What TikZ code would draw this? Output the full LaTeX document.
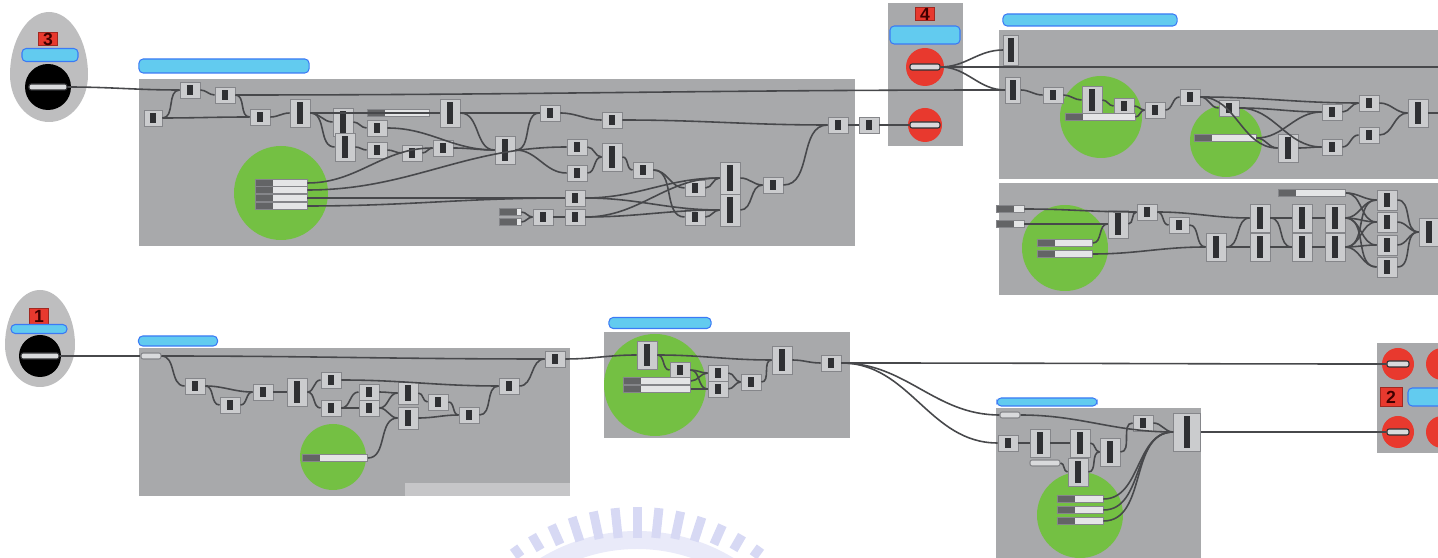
\documentclass[tikz,border=0pt]{standalone}
\usepackage{fontspec}
\setmainfont{Liberation Sans}
\usepackage{tikz}
\usepackage{xcolor}
\definecolor{panelc}{HTML}{A8A9AB}
\definecolor{stripc}{HTML}{C6C6C8}
\definecolor{compc}{HTML}{CBCCCE}
\definecolor{edgec}{HTML}{85868A}
\definecolor{corec}{HTML}{2F3033}
\definecolor{wirec}{HTML}{47484B}
\definecolor{groupc}{HTML}{74C043}
\definecolor{alertc}{HTML}{E8392E}
\definecolor{notec}{HTML}{62CBEF}
\definecolor{eggc}{HTML}{BEBEBF}
\definecolor{sliderc}{HTML}{E4E5E6}
\definecolor{pillc}{HTML}{D9DADC}
\definecolor{markc}{HTML}{D7D9F4}
\tikzset{
  panel/.style={fill=panelc},
  group/.style={fill=groupc},
  wire/.style={draw=wirec, line width=0.45pt},
  comp/.style={draw=edgec, fill=compc, line width=0.25pt, inner sep=0pt, minimum width=0.2cm, minimum height=0.16cm,
    path picture={\fill[corec] ([xshift=-0.8pt,yshift=-0.8pt]path picture bounding box.north) rectangle ([xshift=0.8pt,yshift=0.8pt]path picture bounding box.south);}},
  tallcomp/.style={comp, minimum height=0.28cm},
  slider/.style={draw=edgec, fill=sliderc, line width=0.25pt, inner sep=0pt, minimum height=0.065cm,
    path picture={\fill[corec!75] (path picture bounding box.south west) rectangle ([xshift=5pt]path picture bounding box.north west);}},
  pill/.style={draw=corec, fill=pillc, line width=0.3pt, inner sep=0pt, minimum width=0.38cm, minimum height=0.06cm, rounded corners=0.6pt},
  tag/.style={fill=alertc, draw=alertc!70!black, line width=0.25pt, inner sep=0pt, minimum width=0.19cm, minimum height=0.13cm,
    font=\bfseries\fontsize{5}{5}\selectfont, text=black!75!red},
  note/.style={fill=notec, draw=notec!60!blue, line width=0.3pt, rounded corners=1.2pt, inner sep=0pt},
}
\begin{document}
\begin{tikzpicture}[x=0.01cm, y=-0.01cm]
\useasboundingbox (0,0) rectangle (1438,558);
\clip (0,0) rectangle (1438,558);
\fill[markc!55, shift={(637,717)}] (233:168) arc[start angle=233, end angle=307, radius=168] -- (307:186) arc[start angle=307, end angle=233, radius=186] -- cycle;
\foreach \a/\h in {-36/12,-30/17,-24/21,-18/25,-12/28,-6/30,0/31,6/30,12/28,18/25,24/21,30/17,36/12}
  \fill[markc, shift={(637,717)}, rotate=\a] (-4.5,-210+\h) rectangle (4.5,-210);

\fill[eggc] (10,75) arc[start angle=180, end angle=360, x radius=39, y radius=63] arc[start angle=0, end angle=180, x radius=39, y radius=47] -- cycle;
\fill[black] (48,87) circle[radius=23];
\fill[eggc] (5,345) arc[start angle=180, end angle=360, x radius=35, y radius=55] arc[start angle=0, end angle=180, x radius=35, y radius=42] -- cycle;
\fill[black] (40,356) circle[radius=21];

\fill[panel] (139,79) rectangle (855,246);
\fill[panel] (888,3) rectangle (963,146);
\fill[panel] (999,30) rectangle (1438,179);
\fill[panel] (999,183) rectangle (1438,295);
\fill[panel] (139,348) rectangle (570,496);
\fill[stripc] (405,483) rectangle (570,496);
\fill[panel] (604,332) rectangle (850,438);
\fill[panel] (996,408) rectangle (1201,558);
\fill[panel] (1377,343) rectangle (1438,453);

\fill[group] (281,193) circle[radius=47];
\fill[group] (1101,117) circle[radius=41];
\fill[group] (1226,141) circle[radius=36];
\fill[group] (1065,248) circle[radius=43];
\fill[group] (333,457) circle[radius=33];
\fill[group] (655,385) circle[radius=51];
\fill[group] (1080,515) circle[radius=43];
\fill[alertc] (925,67) circle[radius=19];
\fill[alertc] (925,125) circle[radius=17];
\fill[alertc] (1398,364) circle[radius=16];
\fill[alertc] (1398,432) circle[radius=16];
\fill[alertc] (1442,364) circle[radius=16];
\fill[alertc] (1442,432) circle[radius=16];

\node[tag] (t3) at (48,39) {3};
\node[note, minimum width=0.56cm, minimum height=0.13cm] (n3) at (50,55) {};
\node[pill] (p3) at (48,87) {};
\node[note, minimum width=1.7cm, minimum height=0.14cm] (n3b) at (224,66) {};
\node[tag, minimum height=0.16cm] (t1) at (39,316) {1};
\node[note, minimum width=0.56cm, minimum height=0.09cm] (n1) at (39,329) {};
\node[pill] (p1) at (40,356) {};
\node[note, minimum width=0.79cm, minimum height=0.1cm] (n1b) at (178,341) {};
\node[tag] (t4) at (925,14) {4};
\node[note, minimum width=0.7cm, minimum height=0.18cm] (n4) at (925,35) {};
\node[pill, minimum width=0.3cm] (p4a) at (925,67) {};
\node[pill, minimum width=0.3cm] (p4b) at (925,125) {};
\node[note, minimum width=1.74cm, minimum height=0.12cm] (nA) at (1090,20) {};
\node[note, minimum width=1.02cm, minimum height=0.11cm] (n2) at (660,323) {};
\node[note, minimum width=1.0cm, minimum height=0.08cm] (n5) at (1047,402) {};
\node[tag, minimum width=0.22cm, minimum height=0.19cm] (t2) at (1391,397) {2};
\node[note, minimum width=0.34cm, minimum height=0.18cm] (n6) at (1425,397) {};
\node[pill, minimum width=0.22cm] (p6a) at (1398,364) {};
\node[pill, minimum width=0.22cm] (p6b) at (1398,432) {};

\node[comp, minimum width=0.18cm] (c3in) at (153,118) {};
\node[comp] (c3a) at (190,90) {};
\node[comp] (c3b) at (225,95) {};
\node[comp] (c3c) at (260,117) {};
\node[tallcomp] (c3d) at (300,113) {};
\node[tallcomp] (c3e) at (343,122) {};
\node[tallcomp] (c3f) at (345,147) {};
\node[comp] (c3g) at (377,128) {};
\node[comp] (c3h) at (377,150) {};
\node[comp] (c3i) at (412,153) {};
\node[comp] (c3j) at (443,148) {};
\node[slider, minimum width=0.62cm] (s3a) at (398,113) {};
\node[tallcomp] (c3k) at (450,113) {};
\node[tallcomp] (c3m) at (505,150) {};
\node[comp] (c3n) at (550,113) {};
\node[comp] (c3o) at (612,120) {};
\node[comp] (c3p) at (577,147) {};
\node[tallcomp] (c3q) at (612,157) {};
\node[comp] (c3r) at (577,173) {};
\node[comp] (c3s) at (643,170) {};
\node[comp] (c3t) at (575,198) {};
\node[slider, minimum width=0.22cm] (i3a) at (510,212) {};
\node[slider, minimum width=0.22cm] (i3b) at (510,222) {};
\node[comp] (c3v) at (543,217) {};
\node[comp] (c3u) at (575,217) {};
\node[comp] (c3w) at (695,188) {};
\node[comp] (c3x) at (695,217) {};
\node[tallcomp, minimum height=0.32cm] (c3y) at (730,178) {};
\node[tallcomp, minimum height=0.32cm] (c3z) at (730,210) {};
\node[comp] (c3e2) at (773,185) {};
\node[comp] (c3out) at (838,125) {};
\node[comp] (c3end) at (869,125) {};
\foreach \y/\n in {183/g3a,190/g3b,198/g3c,206/g3d}
  \node[slider, minimum width=0.52cm] (\n) at (281,\y) {};

\node[tallcomp, minimum width=0.15cm, minimum height=0.3cm] (a1) at (1011,50) {};
\node[tallcomp, minimum width=0.15cm, minimum height=0.26cm] (a2) at (1013,90) {};
\node[comp] (a3) at (1053,95) {};
\node[tallcomp] (a4) at (1092,100) {};
\node[comp] (a5) at (1124,106) {};
\node[comp] (a6) at (1155,110) {};
\node[comp] (a7) at (1190,97) {};
\node[comp] (a8) at (1229,108) {};
\node[tallcomp] (a9) at (1288,148) {};
\node[comp] (a10) at (1332,112) {};
\node[comp] (a11) at (1332,147) {};
\node[comp] (a12) at (1369,103) {};
\node[comp] (a13) at (1369,135) {};
\node[tallcomp] (a14) at (1418,113) {};
\node[slider, minimum width=0.7cm] (sA1) at (1100,117) {};
\node[slider, minimum width=0.62cm] (sA2) at (1225,138) {};
\coordinate (edgeA) at (1438,67);
\coordinate (edgeA2) at (1438,113);

\node[slider, minimum width=0.28cm] (bin1) at (1010,209) {};
\node[slider, minimum width=0.28cm] (bin2) at (1010,224) {};
\node[tallcomp] (b1) at (1118,224) {};
\node[comp] (b2) at (1147,212) {};
\node[comp] (b3) at (1179,225) {};
\node[tallcomp] (b4) at (1216,247) {};
\node[tallcomp] (b5) at (1260,218) {};
\node[tallcomp] (b6) at (1260,247) {};
\node[tallcomp] (b7) at (1302,218) {};
\node[tallcomp] (b8) at (1302,247) {};
\node[tallcomp] (b9) at (1335,218) {};
\node[tallcomp] (b10) at (1335,247) {};
\foreach \y/\n in {200/b11,222/b12,245/b13,267/b14}
  \node[comp, minimum height=0.2cm] (\n) at (1387,\y) {};
\node[tallcomp] (b15) at (1429,232) {};
\node[slider, minimum width=0.67cm] (sB) at (1312,193) {};
\node[slider, minimum width=0.55cm] (sB1) at (1065,243) {};
\node[slider, minimum width=0.55cm] (sB2) at (1065,254) {};
\coordinate (edgeB) at (1438,232);

\node[pill, minimum width=0.2cm, draw=edgec] (c1in) at (151,356) {};
\node[comp] (c1a) at (195,386) {};
\node[comp] (c1b) at (230,405) {};
\node[comp] (c1c) at (263,392) {};
\node[tallcomp] (c1d) at (297,392) {};
\node[comp] (c1e) at (331,380) {};
\node[comp] (c1f) at (331,408) {};
\node[comp] (c1g) at (369,392) {};
\node[comp] (c1h) at (369,408) {};
\node[tallcomp, minimum height=0.22cm] (c1i) at (408,393) {};
\node[tallcomp, minimum height=0.22cm] (c1j) at (408,418) {};
\node[comp] (c1k) at (438,402) {};
\node[comp] (c1l) at (469,415) {};
\node[comp] (c1n) at (509,386) {};
\node[comp] (c1o) at (555,359) {};
\node[slider, minimum width=0.65cm] (s1) at (335,458) {};

\node[tallcomp] (c2a) at (647,355) {};
\node[comp] (c2b) at (680,370) {};
\node[comp] (c2c) at (718,373) {};
\node[comp] (c2d) at (718,389) {};
\node[comp] (c2e) at (751,382) {};
\node[tallcomp] (c2f) at (782,360) {};
\node[comp] (c2g) at (831,363) {};
\node[slider, minimum width=0.67cm] (s2a) at (657,381) {};
\node[slider, minimum width=0.67cm] (s2b) at (657,389) {};

\node[pill, minimum width=0.2cm, draw=edgec] (ein) at (1010,415) {};
\node[comp] (e1) at (1008,443) {};
\node[tallcomp] (e2) at (1040,443) {};
\node[tallcomp] (e3) at (1080,443) {};
\node[tallcomp] (e4) at (1110,452) {};
\node[tallcomp] (e5) at (1078,472) {};
\node[pill, minimum width=0.3cm, draw=edgec] (ein2) at (1045,463) {};
\node[comp] (e6) at (1143,423) {};
\node[comp, minimum width=0.27cm, minimum height=0.38cm] (e7) at (1187,432) {};
\foreach \y/\n in {499/s5a,510/s5b,521/s5c}
  \node[slider, minimum width=0.46cm] (\n) at (1080,\y) {};

\foreach \a/\b in {p3/c3a,c3in/c3a,c3in/c3c,c3a/c3b,c3b/c3c,c3c/c3d,c3d/c3k,c3d/c3e,c3d/c3f,c3e/c3g,c3g/c3m,
  c3f/c3h,c3h/c3i,c3i/c3j,c3j/c3m,s3a/c3k,c3k/c3m,c3k/c3n,c3m/c3n,c3n/c3o,c3o/c3out,c3m/c3r,c3p/c3q,c3r/c3q,
  c3q/c3s,c3s/c3w,c3s/c3x,g3a/c3j,g3b/c3p,g3c/c3t,g3d/c3t,i3a/c3v,i3b/c3v,c3v/c3u,c3t/c3y,c3t/c3z,c3u/c3y,
  c3u/c3z,c3w/c3y,c3x/c3z,c3y/c3e2,c3z/c3e2,c3e2/c3out,c3out/c3end,c3end/p4b,
  p4a/a1,p4a/a2,c3b/a2,a2/a3,a3/a4,a4/a5,a5/a6,sA1/a6,a6/a7,a7/a8,a7/a12,a7/a9,a8/a10,a8/a11,sA2/a9,sA2/a10,
  a9/a11,a10/a12,a11/a13,a12/a14,a13/a14,
  bin1/b2,bin2/b1,sB1/b1,sB2/b4,b1/b2,b2/b3,b2/b5,b3/b4,b4/b5,b4/b6,b5/b7,b6/b8,b5/b8,b7/b9,b8/b10,
  b9/b11,b9/b12,b9/b13,b9/b14,b10/b11,b10/b12,b10/b13,b10/b14,sB/b11,sB/b12,b11/b15,b12/b15,b13/b15,b14/b15,
  p1/c1in,c1in/c1o,c1in/c1a,c1a/c1b,c1a/c1c,c1b/c1c,c1c/c1d,c1d/c1e,c1d/c1f,c1e/c1n,c1f/c1g,c1f/c1h,
  c1g/c1i,c1h/c1i,c1h/c1j,c1i/c1k,c1k/c1l,c1j/c1l,s1/c1j,c1l/c1n,c1n/c1o,c1o/c2a,
  c2a/c2b,c2a/c2f,c2b/c2c,c2b/c2d,s2a/c2c,s2b/c2d,c2c/c2e,c2d/c2e,c2e/c2f,c2f/c2g,c2g/p6a,c2g/ein,c2g/e1,
  ein/e7,e1/e2,e2/e3,ein2/e5,e3/e4,e5/e4,e4/e6,e6/e7,s5a/e7,s5b/e7,s5c/e7,e7/p6b}
  \draw[wire] (\a.east) to[out=0,in=180] (\b.west);
\draw[wire] (p4a.east) to[out=0,in=180] (edgeA);
\draw[wire] (a14.east) -- (edgeA2);
\draw[wire] (b15.east) -- (edgeB);
\end{tikzpicture}
\end{document}
